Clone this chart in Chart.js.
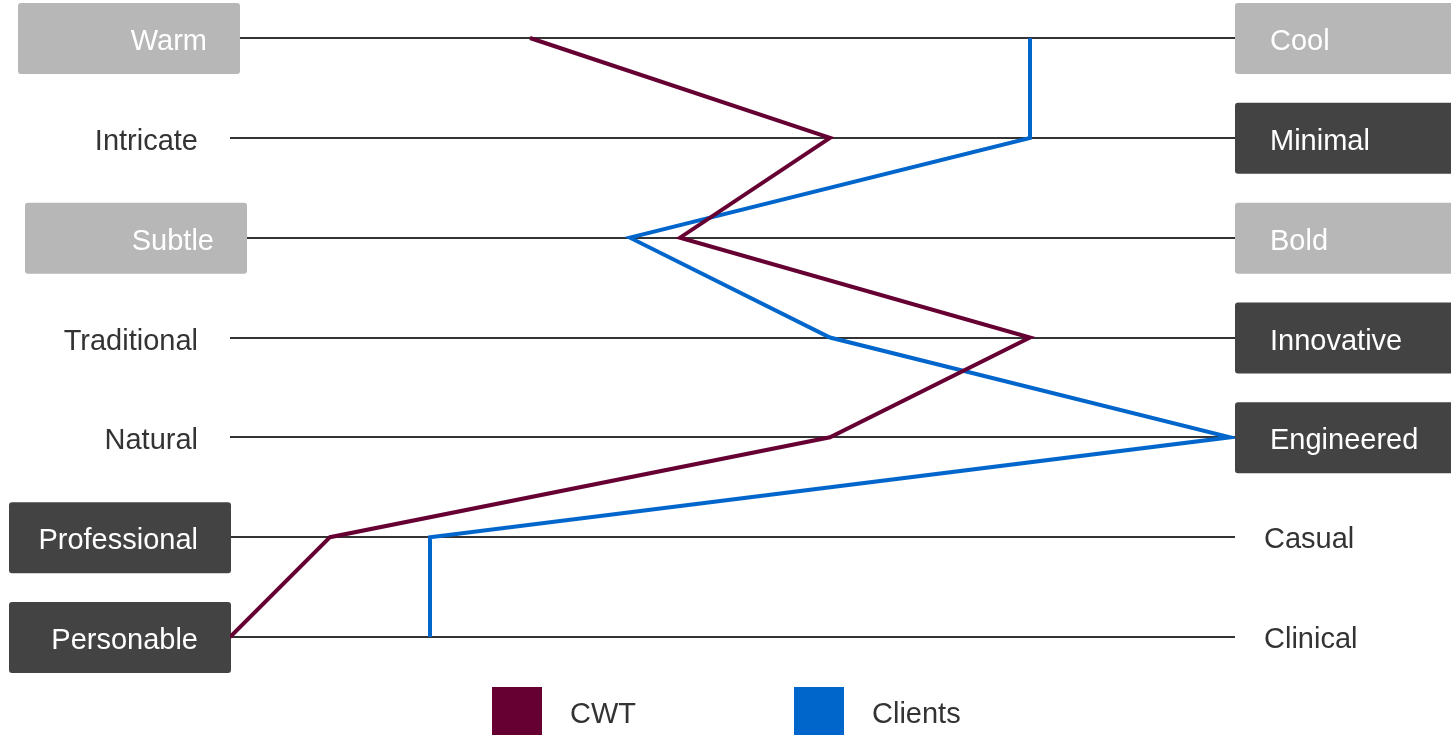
<!DOCTYPE html>
<html>
<head>
<meta charset="utf-8">
<script src="https://cdn.jsdelivr.net/npm/chart.js@4/dist/chart.umd.min.js"></script>
<style>
  body { margin: 0; background: #fff; }
  #wrap { width: 1451px; height: 735px; position: relative; }
</style>
</head>
<body>
<div id="wrap"><canvas id="chart"></canvas></div>
<script>
// attribute pairs, top to bottom
const leftLabels = ['Warm', 'Intricate', 'Subtle', 'Traditional', 'Natural', 'Professional', 'Personable'];
const rightLabels = ['Cool', 'Minimal', 'Bold', 'Innovative', 'Engineered', 'Casual', 'Clinical'];

// scores on a 0..10 scale (0 = left word, 10 = right word)
const cwtValues = [3, 6, 4.5, 8, 6, 1, 0];
const clientValues = [8, 8, 4, 6, 10, 2, 2];

const seriesNames = ['CWT', 'Clients'];
const seriesColors = ['#660033', '#0066cc'];

// which label gets a box
const leftBox = ['light', null, 'light', null, null, 'dark', 'dark'];
const rightBox = ['light', 'dark', 'light', 'dark', 'dark', null, null];
const leftShift = [9, 0, 16, 0, 0, 0, 0];

const boxColor = { light: '#b7b7b7', dark: '#434343' };
const font = '29px "Liberation Sans", Arial, sans-serif';

function roundRect(ctx, x, y, w, h, r) {
  ctx.beginPath();
  ctx.moveTo(x + r, y);
  ctx.arcTo(x + w, y, x + w, y + h, r);
  ctx.arcTo(x + w, y + h, x, y + h, r);
  ctx.arcTo(x, y + h, x, y, r);
  ctx.arcTo(x, y, x + w, y, r);
  ctx.closePath();
  ctx.fill();
}

const labelPlugin = {
  id: 'sideLabels',
  beforeDatasetsDraw(chart) {
    const ctx = chart.ctx;
    const area = chart.chartArea;
    const yScale = chart.scales.y;
    ctx.save();
    ctx.font = font;
    ctx.textBaseline = 'middle';
    leftLabels.forEach((lab, i) => {
      const y = yScale.getPixelForValue(i);
      const right = area.left + 1 + leftShift[i];
      if (leftBox[i]) {
        ctx.fillStyle = boxColor[leftBox[i]];
        roundRect(ctx, right - 222, y - 35, 222, 71, 3);
        ctx.fillStyle = '#fff';
      } else {
        ctx.fillStyle = '#333';
      }
      ctx.textAlign = 'right';
      ctx.fillText(lab, right - 33, y + 4);
    });
    rightLabels.forEach((lab, i) => {
      const y = yScale.getPixelForValue(i);
      const left = area.right;
      if (rightBox[i]) {
        ctx.fillStyle = boxColor[rightBox[i]];
        roundRect(ctx, left, y - 35, 230, 71, 3);
        ctx.fillStyle = '#fff';
        ctx.textAlign = 'left';
        ctx.fillText(lab, left + 35, y + 4);
      } else {
        ctx.fillStyle = '#333';
        ctx.textAlign = 'left';
        ctx.fillText(lab, left + 29, y + 3);
      }
    });
    ctx.restore();
  },
  afterDraw(chart) {
    // legend
    const ctx = chart.ctx;
    const xs = [492, 794];
    ctx.save();
    ctx.font = font;
    ctx.textBaseline = 'middle';
    ctx.textAlign = 'left';
    seriesNames.forEach((name, i) => {
      ctx.fillStyle = seriesColors[i];
      ctx.fillRect(xs[i], 687, 50, 48);
      ctx.fillStyle = '#333';
      ctx.fillText(name, xs[i] + 78, 715);
    });
    ctx.restore();
  }
};

new Chart(document.getElementById('chart'), {
  type: 'line',
  data: {
    labels: leftLabels,
    datasets: [
      { label: seriesNames[0], data: cwtValues, borderColor: seriesColors[0], backgroundColor: seriesColors[0] },
      { label: seriesNames[1], data: clientValues, borderColor: seriesColors[1], backgroundColor: seriesColors[1] }
    ]
  },
  options: {
    indexAxis: 'y',
    responsive: true,
    maintainAspectRatio: false,
    animation: false,
    layout: { padding: { left: 230, right: 216, top: 38, bottom: 98 } },
    elements: {
      line: { borderWidth: 4, tension: 0, borderJoinStyle: 'miter' },
      point: { radius: 0, hoverRadius: 0 }
    },
    plugins: { legend: { display: false }, tooltip: { enabled: false } },
    scales: {
      x: { type: 'linear', min: 0, max: 10.05, display: false },
      y: {
        type: 'category',
        offset: false,
        ticks: { display: false },
        grid: { color: '#333', lineWidth: 2, drawTicks: false },
        border: { display: false }
      }
    }
  },
  plugins: [labelPlugin]
});
</script>
</body>
</html>
